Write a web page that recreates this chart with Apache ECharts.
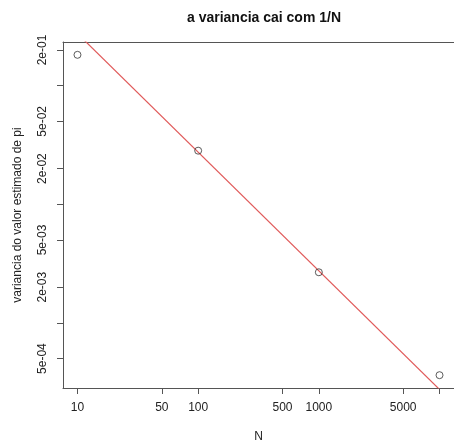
<!DOCTYPE html>
<html>
<head>
<meta charset="utf-8">
<script src="https://cdn.jsdelivr.net/npm/echarts@6/dist/echarts.min.js"></script>
<style>
html, body { margin: 0; padding: 0; background: #fff; }
#chart { width: 454px; height: 448px; }
</style>
</head>
<body>
<div id="chart"></div>
<script>
// dados (eixos log-log)
var sampleN = [10, 100, 1000, 10000];
var variancia = [0.182, 0.0283, 0.00267, 0.000362];

// reta de referencia (vermelha), pontos extremos fora da area
var lineN = [7, 14000];
var lineV = [0.393, 0.000196];

// marcas dos eixos
var xTicks = [10, 50, 100, 500, 1000, 5000, 10000];
var xLabels = [10, 50, 100, 500, 1000, 5000];
var yTicks = [0.2, 0.1, 0.05, 0.02, 0.01, 0.005, 0.002, 0.001, 0.0005];
var yLabels = [0.2, 0.05, 0.02, 0.005, 0.002, 0.0005];

var log10 = function (v) { return Math.log(v) / Math.LN10; };

// faixa como no R: extende 4% do intervalo dos dados
function range(arr) {
    var lo = log10(Math.min.apply(null, arr));
    var hi = log10(Math.max.apply(null, arr));
    var d = (hi - lo) * 0.04;
    return [lo - d, hi + d];
}
var xr = range(sampleN);
var yr = range(variancia);

function fmtE(v) {
    var val = Math.pow(10, v);
    var e = Math.floor(log10(val) + 1e-9);
    var m = Math.round(val / Math.pow(10, e));
    var ae = Math.abs(e);
    return m + 'e' + (e < 0 ? '-' : '+') + (ae < 10 ? '0' + ae : ae);
}

var pts = [];
for (var i = 0; i < sampleN.length; i++) {
    pts.push([log10(sampleN[i]), log10(variancia[i])]);
}
var reta = [];
for (var j = 0; j < lineN.length; j++) {
    reta.push([log10(lineN[j]), log10(lineV[j])]);
}

var fontFam = '"Liberation Sans", Arial, sans-serif';
var frameColor = '#555';
var chart = echarts.init(document.getElementById('chart'));
chart.setOption({
    animation: false,
    title: {
        text: 'a variancia cai com 1/N',
        left: 259,
        textAlign: 'center',
        top: 6,
        textStyle: { fontFamily: fontFam, fontSize: 14, fontWeight: 'bold', color: '#111' }
    },
    grid: {
        left: 63,
        right: -2,
        top: 42,
        bottom: 55,
        show: false
    },
    xAxis: [{
        type: 'value',
        min: xr[0],
        max: xr[1],
        name: 'N',
        nameLocation: 'middle',
        nameGap: 43,
        nameTextStyle: { fontFamily: fontFam, fontSize: 12, color: '#222' },
        splitLine: { show: false },
        axisLine: { show: true, onZero: false, lineStyle: { color: frameColor, width: 1 } },
        axisTick: {
            show: true,
            length: 6,
            inside: false,
            customValues: xTicks.map(log10),
            lineStyle: { color: frameColor, width: 1 }
        },
        axisLabel: {
            margin: 14,
            customValues: xLabels.map(log10),
            fontFamily: fontFam,
            fontSize: 12,
            color: '#222',
            formatter: function (v) { return String(Math.round(Math.pow(10, v))); }
        }
    }, {
        // so a linha de cima da moldura
        type: 'value',
        position: 'top',
        min: xr[0],
        max: xr[1],
        splitLine: { show: false },
        axisLine: { show: true, onZero: false, lineStyle: { color: frameColor, width: 1 } },
        axisTick: { show: false },
        axisLabel: { show: false }
    }],
    yAxis: {
        type: 'value',
        min: yr[0],
        max: yr[1],
        name: 'variancia do valor estimado de pi',
        nameLocation: 'middle',
        nameGap: 39,
        nameTextStyle: { fontFamily: fontFam, fontSize: 12, color: '#222' },
        splitLine: { show: false },
        axisLine: { show: true, onZero: false, lineStyle: { color: frameColor, width: 1 } },
        axisTick: {
            show: true,
            length: 6,
            inside: false,
            customValues: yTicks.map(log10),
            lineStyle: { color: frameColor, width: 1 }
        },
        axisLabel: {
            margin: 14,
            rotate: 90,
            customValues: yLabels.map(log10),
            fontFamily: fontFam,
            fontSize: 12,
            color: '#222',
            formatter: fmtE
        }
    },
    series: [{
        name: 'reta',
        type: 'line',
        data: reta,
        showSymbol: false,
        symbol: 'none',
        clip: true,
        lineStyle: { color: '#e05a5a', width: 1.2 },
        silent: true
    }, {
        name: 'variancia',
        type: 'scatter',
        data: pts,
        symbol: 'circle',
        symbolSize: 7,
        itemStyle: { color: 'rgba(255,255,255,0)', borderColor: '#333', borderWidth: 1 },
        z: 5,
        silent: true
    }]
});
</script>
</body>
</html>
